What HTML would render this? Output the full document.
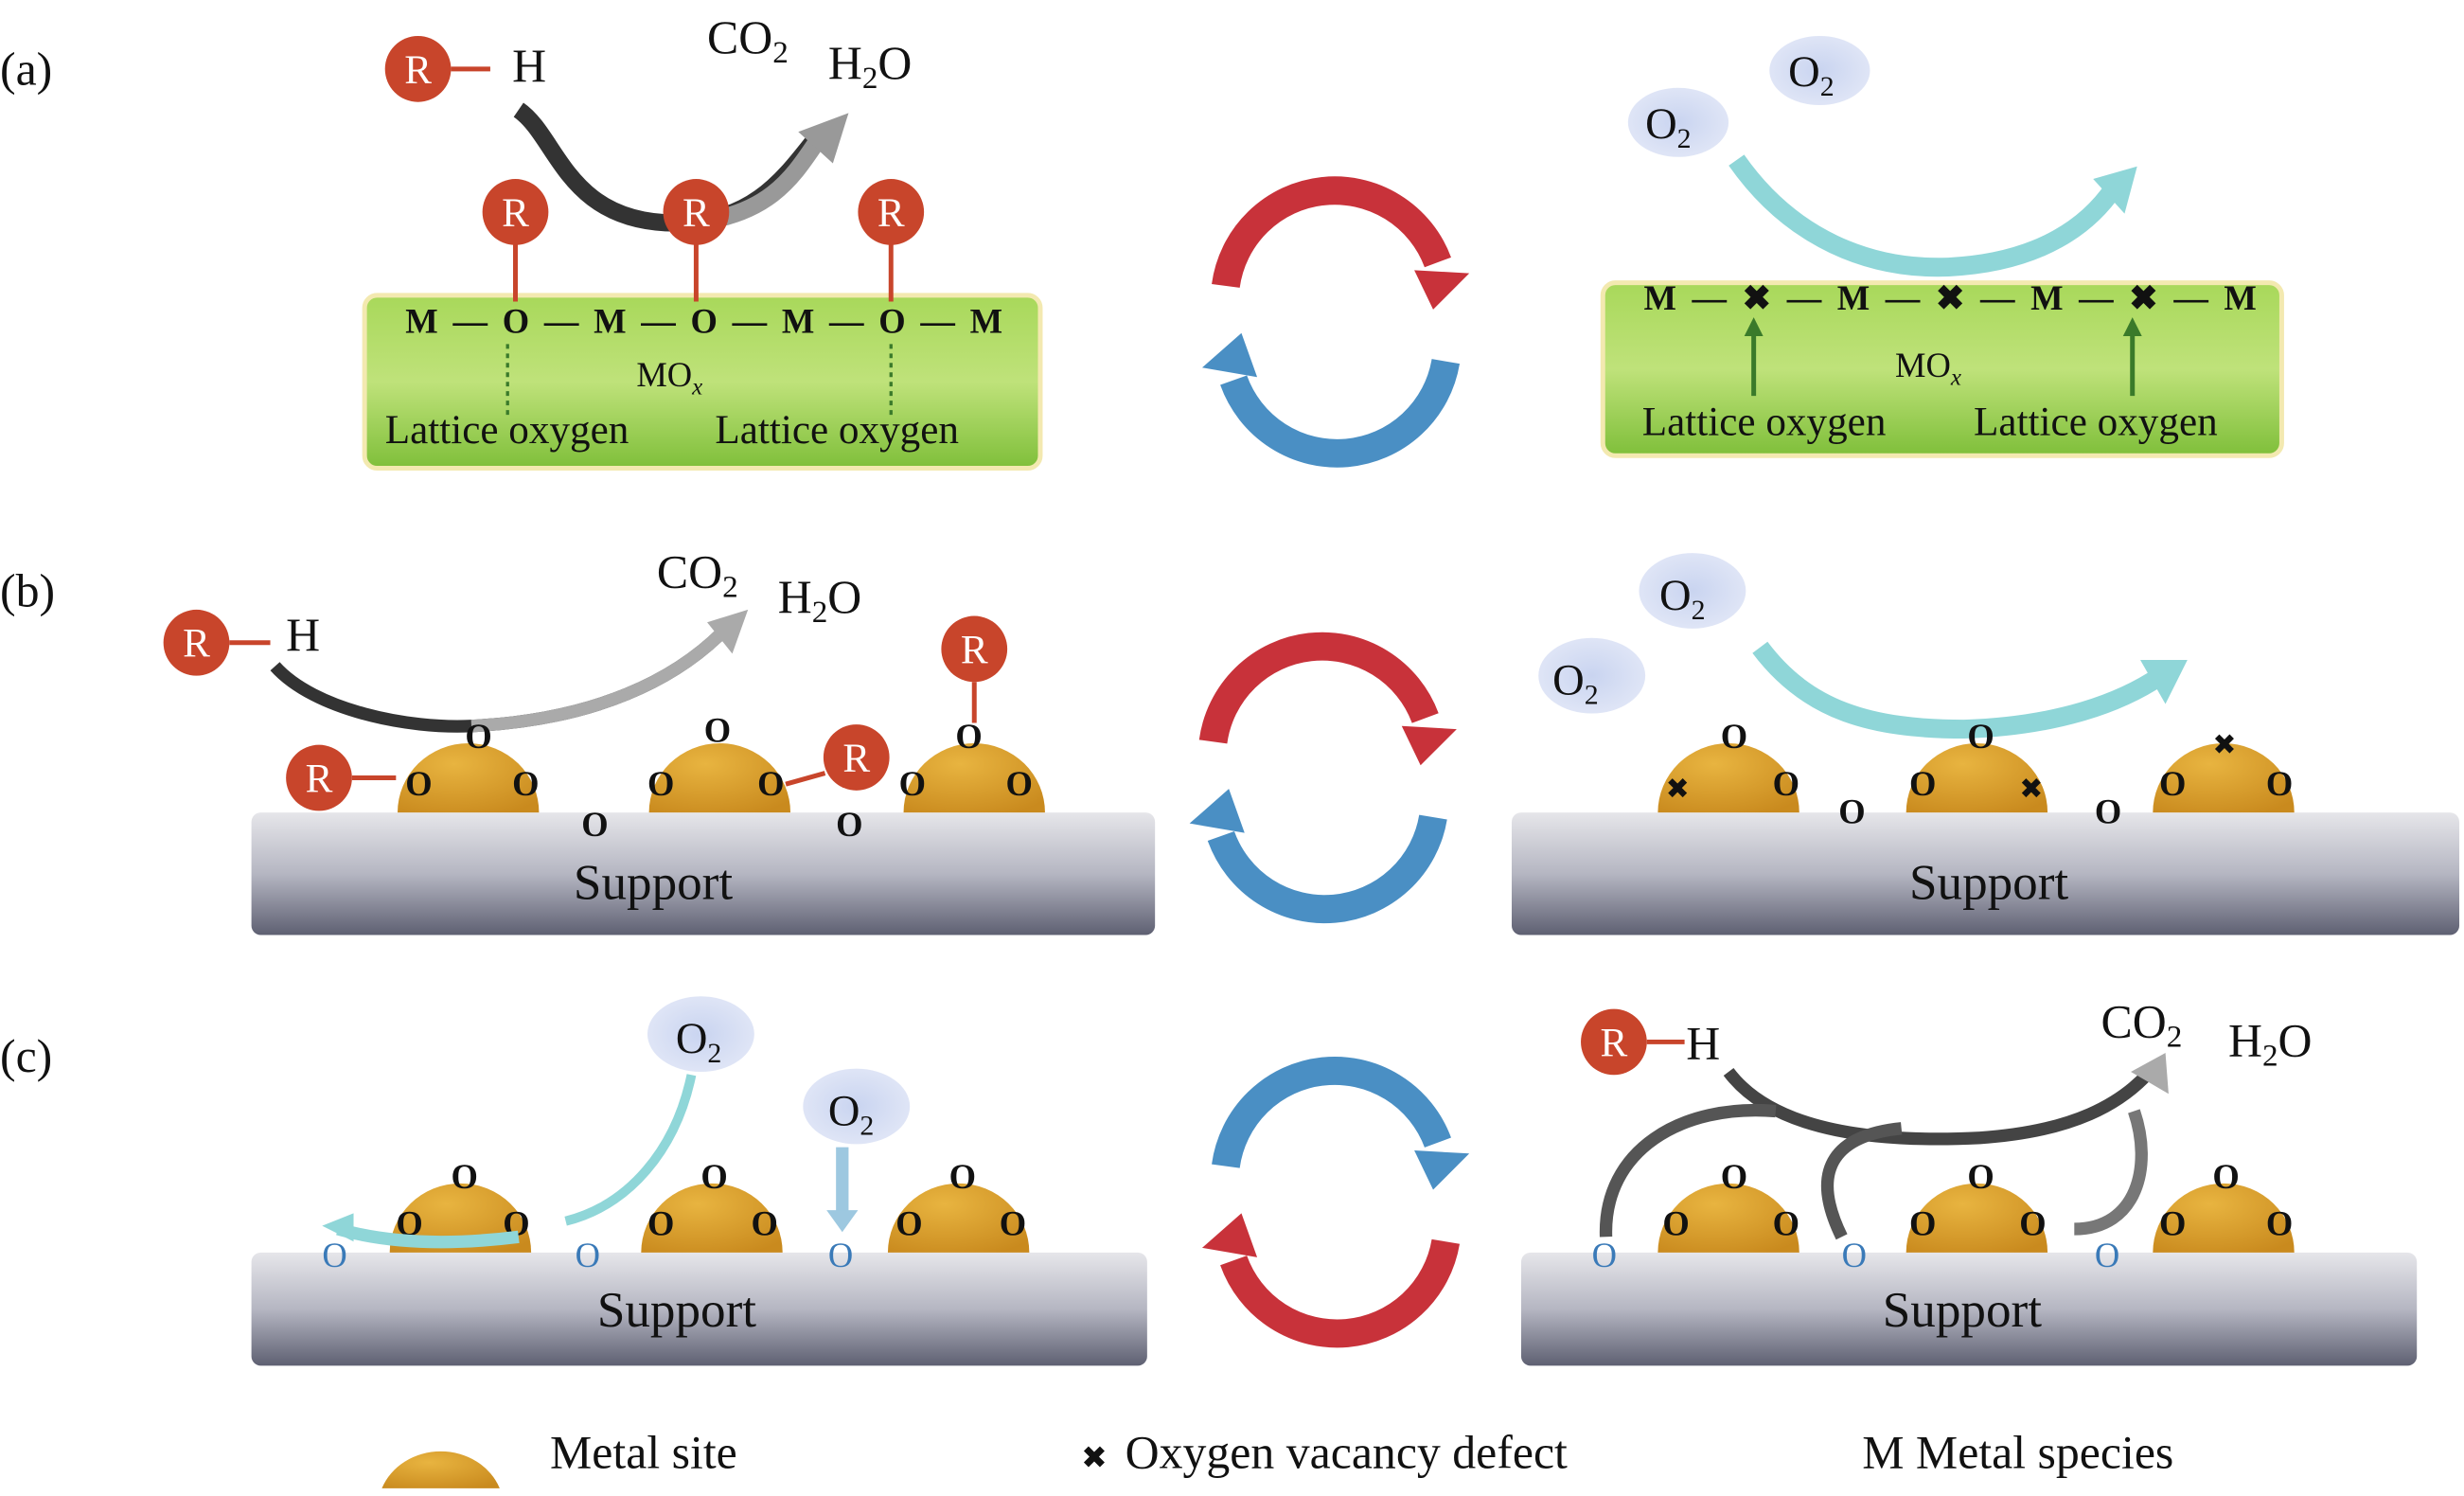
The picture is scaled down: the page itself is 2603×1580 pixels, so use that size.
<!DOCTYPE html>
<html><head><meta charset="utf-8"><style>
html,body{margin:0;padding:0;background:#fff}
svg{display:block}
text{font-family:"Liberation Serif",serif;fill:#111}
</style></head><body>
<svg width="2603" height="1580" viewBox="0 0 1568 948" xmlns="http://www.w3.org/2000/svg">
<defs>
<linearGradient id="green" x1="0" y1="0" x2="0" y2="1">
<stop offset="0" stop-color="#a8d85a"/><stop offset="0.5" stop-color="#bfe27a"/><stop offset="1" stop-color="#7fbf3a"/></linearGradient>
<linearGradient id="sup" x1="0" y1="0" x2="0" y2="1">
<stop offset="0" stop-color="#e6e6ea"/><stop offset="0.5" stop-color="#b5b6c2"/><stop offset="1" stop-color="#5e6072"/></linearGradient>
<radialGradient id="domeG" cx="0.4" cy="0.3" r="0.8"><stop offset="0" stop-color="#e8b440"/><stop offset="1" stop-color="#c98a1e"/></radialGradient>
<radialGradient id="o2" cx="0.5" cy="0.5" r="0.5"><stop offset="0" stop-color="#c9d4f0"/><stop offset="1" stop-color="#dfe5f6"/></radialGradient>
<g id="R"><circle r="21" fill="#c8452b"/><text y="9" text-anchor="middle" font-size="26" style="fill:#fff">R</text></g>
<g id="dm"><path d="M-45,3 A45,44 0 0 1 45,3 Z" fill="url(#domeG)"/></g>
</defs>

<text x="0" y="52" font-size="30">(a)</text>
<text x="0" y="384" font-size="30">(b)</text>
<text x="0" y="680" font-size="30">(c)</text>

<!-- Panel a left -->
<rect x="232" y="186" width="430" height="110" rx="8" fill="url(#green)" stroke="#f3e9b0" stroke-width="3"/>
<text x="258" y="210" font-size="22" font-weight="bold" textLength="380">M—O—M—O—M—O—M</text>
<text x="405" y="244" font-size="22">MO<tspan font-style="italic" font-size="15" dy="5">x</tspan></text>
<text x="245" y="280" font-size="26">Lattice oxygen</text>
<text x="455" y="280" font-size="26">Lattice oxygen</text>
<g stroke="#3a7a2a" stroke-width="2" stroke-dasharray="3,3"><line x1="323" y1="262" x2="323" y2="215"/><line x1="567" y1="262" x2="567" y2="215"/></g>
<path d="M330,68 C355,85 360,140 430,140 C480,140 500,110 520,85" fill="none" stroke="#333" stroke-width="11"/>
<path d="M440,140 C490,135 505,110 520,88" fill="none" stroke="#999" stroke-width="11"/>
<polygon points="508,82 540,70 530,102" fill="#999"/>
<g stroke="#c8452b" stroke-width="3"><line x1="328" y1="150" x2="328" y2="190"/><line x1="443" y1="150" x2="443" y2="190"/><line x1="567" y1="150" x2="567" y2="190"/></g>
<use href="#R" x="328" y="133"/><use href="#R" x="443" y="133"/><use href="#R" x="567" y="133"/>
<use href="#R" x="266" y="42"/><line x1="287" y1="42" x2="312" y2="42" stroke="#c8452b" stroke-width="3"/>
<text x="326" y="50" font-size="30">H</text>
<text x="450" y="32" font-size="30">CO<tspan font-size="20" dy="6">2</tspan></text>
<text x="527" y="48" font-size="30">H<tspan font-size="20" dy="6">2</tspan><tspan dy="-6">O</tspan></text>

<!-- Panel a right -->
<rect x="1020" y="178" width="432" height="110" rx="8" fill="url(#green)" stroke="#f3e9b0" stroke-width="3"/>
<text x="1046" y="195" font-size="22" font-weight="bold" textLength="390">M—✖—M—✖—M—✖—M</text>
<text x="1206" y="238" font-size="22">MO<tspan font-style="italic" font-size="15" dy="5">x</tspan></text>
<text x="1045" y="275" font-size="26">Lattice oxygen</text>
<text x="1256" y="275" font-size="26">Lattice oxygen</text>
<g stroke="#3a7a2a" stroke-width="3"><line x1="1116" y1="250" x2="1116" y2="210"/><line x1="1357" y1="250" x2="1357" y2="210"/></g>
<polygon points="1110,212 1122,212 1116,200" fill="#3a7a2a"/><polygon points="1351,212 1363,212 1357,200" fill="#3a7a2a"/>
<ellipse cx="1068" cy="76" rx="32" ry="22" fill="url(#o2)"/>
<ellipse cx="1158" cy="43" rx="32" ry="22" fill="url(#o2)"/>
<text x="1047" y="86" font-size="28">O<tspan font-size="18" dy="6">2</tspan></text>
<text x="1138" y="53" font-size="28">O<tspan font-size="18" dy="6">2</tspan></text>
<path d="M1105,100 C1140,150 1190,170 1240,168 C1300,165 1330,140 1345,118" fill="none" stroke="#8fd6d8" stroke-width="12"/>
<polygon points="1332,112 1360,104 1352,134" fill="#8fd6d8"/>

<!-- cycle arrows -->
<g id="cyc">
<path d="M780,180 A70,70 0 0 1 915,165" fill="none" stroke="#c8323a" stroke-width="18"/>
<polygon points="900,170 935,172 912,195" fill="#c8323a"/>
<path d="M920,228 A70,70 0 0 1 785,240" fill="none" stroke="#4a8fc4" stroke-width="18"/>
<polygon points="800,238 765,232 790,210" fill="#4a8fc4"/>
</g>
<use href="#cyc" y="290" x="-8"/>
<g transform="translate(0,560)">
<path d="M780,180 A70,70 0 0 1 915,165" fill="none" stroke="#4a8fc4" stroke-width="18"/>
<polygon points="900,170 935,172 912,195" fill="#4a8fc4"/>
<path d="M920,228 A70,70 0 0 1 785,240" fill="none" stroke="#c8323a" stroke-width="18"/>
<polygon points="800,238 765,232 790,210" fill="#c8323a"/>
</g>

<!-- Panel b left -->
<rect x="160" y="515" width="575" height="78" rx="6" fill="url(#sup)"/>
<text x="365" y="570" font-size="32">Support</text>
<path d="M175,422 C200,450 260,462 300,460 C380,456 430,430 460,400" fill="none" stroke="#333" stroke-width="8"/>
<path d="M300,460 C380,456 430,430 460,400" fill="none" stroke="#aaa" stroke-width="8"/>
<polygon points="450,394 476,386 466,414" fill="#aaa"/>
<use href="#dm" x="298" y="512"/><use href="#dm" x="458" y="512"/><use href="#dm" x="620" y="512"/>
<g font-size="22" font-weight="bold"><text x="296" y="474">O</text><text x="258" y="504">O</text><text x="326" y="504">O</text><text x="370" y="530">O</text>
<text x="448" y="470">O</text><text x="412" y="504">O</text><text x="482" y="504">O</text><text x="532" y="530">O</text>
<text x="608" y="474">O</text><text x="572" y="504">O</text><text x="640" y="504">O</text></g>
<use href="#R" x="203" y="493"/><line x1="224" y1="493" x2="252" y2="493" stroke="#c8452b" stroke-width="3"/>
<use href="#R" x="545" y="480"/><line x1="525" y1="490" x2="500" y2="497" stroke="#c8452b" stroke-width="3"/>
<use href="#R" x="620" y="411"/><line x1="620" y1="432" x2="620" y2="458" stroke="#c8452b" stroke-width="3"/>
<use href="#R" x="125" y="407"/><line x1="146" y1="407" x2="172" y2="407" stroke="#c8452b" stroke-width="3"/>
<text x="182" y="412" font-size="30">H</text>
<text x="418" y="372" font-size="30">CO<tspan font-size="20" dy="6">2</tspan></text>
<text x="495" y="388" font-size="30">H<tspan font-size="20" dy="6">2</tspan><tspan dy="-6">O</tspan></text>

<!-- Panel b right -->
<rect x="962" y="515" width="603" height="78" rx="6" fill="url(#sup)"/>
<text x="1215" y="570" font-size="32">Support</text>
<path d="M1120,410 C1150,450 1190,462 1250,462 C1310,460 1350,445 1375,428" fill="none" stroke="#8fd6d8" stroke-width="12"/>
<polygon points="1362,418 1392,418 1378,446" fill="#8fd6d8"/>
<use href="#dm" x="1100" y="512"/><use href="#dm" x="1258" y="512"/><use href="#dm" x="1415" y="512"/>
<g font-size="22" font-weight="bold"><text x="1095" y="474">O</text><text x="1128" y="504">O</text><text x="1170" y="522">O</text>
<text x="1252" y="474">O</text><text x="1215" y="504">O</text><text x="1333" y="522">O</text>
<text x="1374" y="504">O</text><text x="1442" y="504">O</text></g>
<g font-size="18"><text x="1060" y="506">✖</text><text x="1285" y="506">✖</text><text x="1408" y="478">✖</text></g>
<ellipse cx="1013" cy="428" rx="34" ry="24" fill="url(#o2)"/>
<ellipse cx="1077" cy="374" rx="34" ry="24" fill="url(#o2)"/>
<text x="988" y="440" font-size="28">O<tspan font-size="18" dy="6">2</tspan></text>
<text x="1056" y="386" font-size="28">O<tspan font-size="18" dy="6">2</tspan></text>

<!-- Panel c left -->
<rect x="160" y="795" width="570" height="72" rx="6" fill="url(#sup)"/>
<text x="380" y="842" font-size="32">Support</text>
<use href="#dm" x="293" y="792"/><use href="#dm" x="453" y="792"/><use href="#dm" x="610" y="792"/>
<g font-size="22" font-weight="bold"><text x="287" y="754">O</text><text x="252" y="784">O</text><text x="320" y="784">O</text>
<text x="446" y="754">O</text><text x="412" y="784">O</text><text x="478" y="784">O</text>
<text x="604" y="754">O</text><text x="570" y="784">O</text><text x="636" y="784">O</text></g>
<g font-size="22"><text x="205" y="804" style="fill:#3a7ab8">O</text><text x="366" y="804" style="fill:#3a7ab8">O</text><text x="527" y="804" style="fill:#3a7ab8">O</text></g>
<ellipse cx="446" cy="656" rx="34" ry="24" fill="url(#o2)"/>
<ellipse cx="545" cy="702" rx="34" ry="24" fill="url(#o2)"/>
<text x="430" y="668" font-size="28">O<tspan font-size="18" dy="6">2</tspan></text>
<text x="527" y="714" font-size="28">O<tspan font-size="18" dy="6">2</tspan></text>
<path d="M440,682 C430,730 400,765 360,775" fill="none" stroke="#8fd6d8" stroke-width="6"/>
<path d="M330,785 C290,790 250,790 215,780" fill="none" stroke="#8fd6d8" stroke-width="8"/>
<polygon points="225,770 205,778 225,788" fill="#8fd6d8"/>
<line x1="536" y1="728" x2="536" y2="770" stroke="#9dc8e0" stroke-width="8"/>
<polygon points="526,768 546,768 536,782" fill="#9dc8e0"/>

<!-- Panel c right -->
<rect x="968" y="795" width="570" height="72" rx="6" fill="url(#sup)"/>
<text x="1198" y="842" font-size="32">Support</text>
<path d="M1100,680 C1130,720 1200,725 1260,722 C1320,718 1350,700 1368,680" fill="none" stroke="#444" stroke-width="8"/>
<polygon points="1356,680 1378,668 1380,694" fill="#aaa"/>
<g fill="none" stroke="#555" stroke-width="8">
<path d="M1022,785 C1020,730 1070,700 1130,705"/>
<path d="M1172,785 C1150,740 1170,720 1210,716"/>
<path d="M1320,780 C1360,780 1370,740 1358,705" stroke="#777"/></g>
<use href="#dm" x="1100" y="792"/><use href="#dm" x="1258" y="792"/><use href="#dm" x="1415" y="792"/>
<g font-size="22" font-weight="bold"><text x="1095" y="754">O</text><text x="1058" y="784">O</text><text x="1128" y="784">O</text>
<text x="1252" y="754">O</text><text x="1215" y="784">O</text><text x="1285" y="784">O</text>
<text x="1408" y="754">O</text><text x="1374" y="784">O</text><text x="1442" y="784">O</text></g>
<g font-size="22"><text x="1013" y="804" style="fill:#3a7ab8">O</text><text x="1172" y="804" style="fill:#3a7ab8">O</text><text x="1333" y="804" style="fill:#3a7ab8">O</text></g>
<use href="#R" x="1027" y="661"/><line x1="1048" y1="661" x2="1072" y2="661" stroke="#c8452b" stroke-width="3"/>
<text x="1073" y="672" font-size="30">H</text>
<text x="1337" y="658" font-size="30">CO<tspan font-size="20" dy="6">2</tspan></text>
<text x="1418" y="670" font-size="30">H<tspan font-size="20" dy="6">2</tspan><tspan dy="-6">O</tspan></text>

<!-- legend -->
<path d="M243,945 A40,36 0 0 1 318,945 Z" fill="url(#domeG)"/>
<text x="350" y="932" font-size="30">Metal site</text>
<text x="688" y="932" font-size="20">✖</text>
<text x="716" y="932" font-size="30">Oxygen vacancy defect</text>
<text x="1185" y="932" font-size="30">M Metal species</text>
</svg>
</body></html>
